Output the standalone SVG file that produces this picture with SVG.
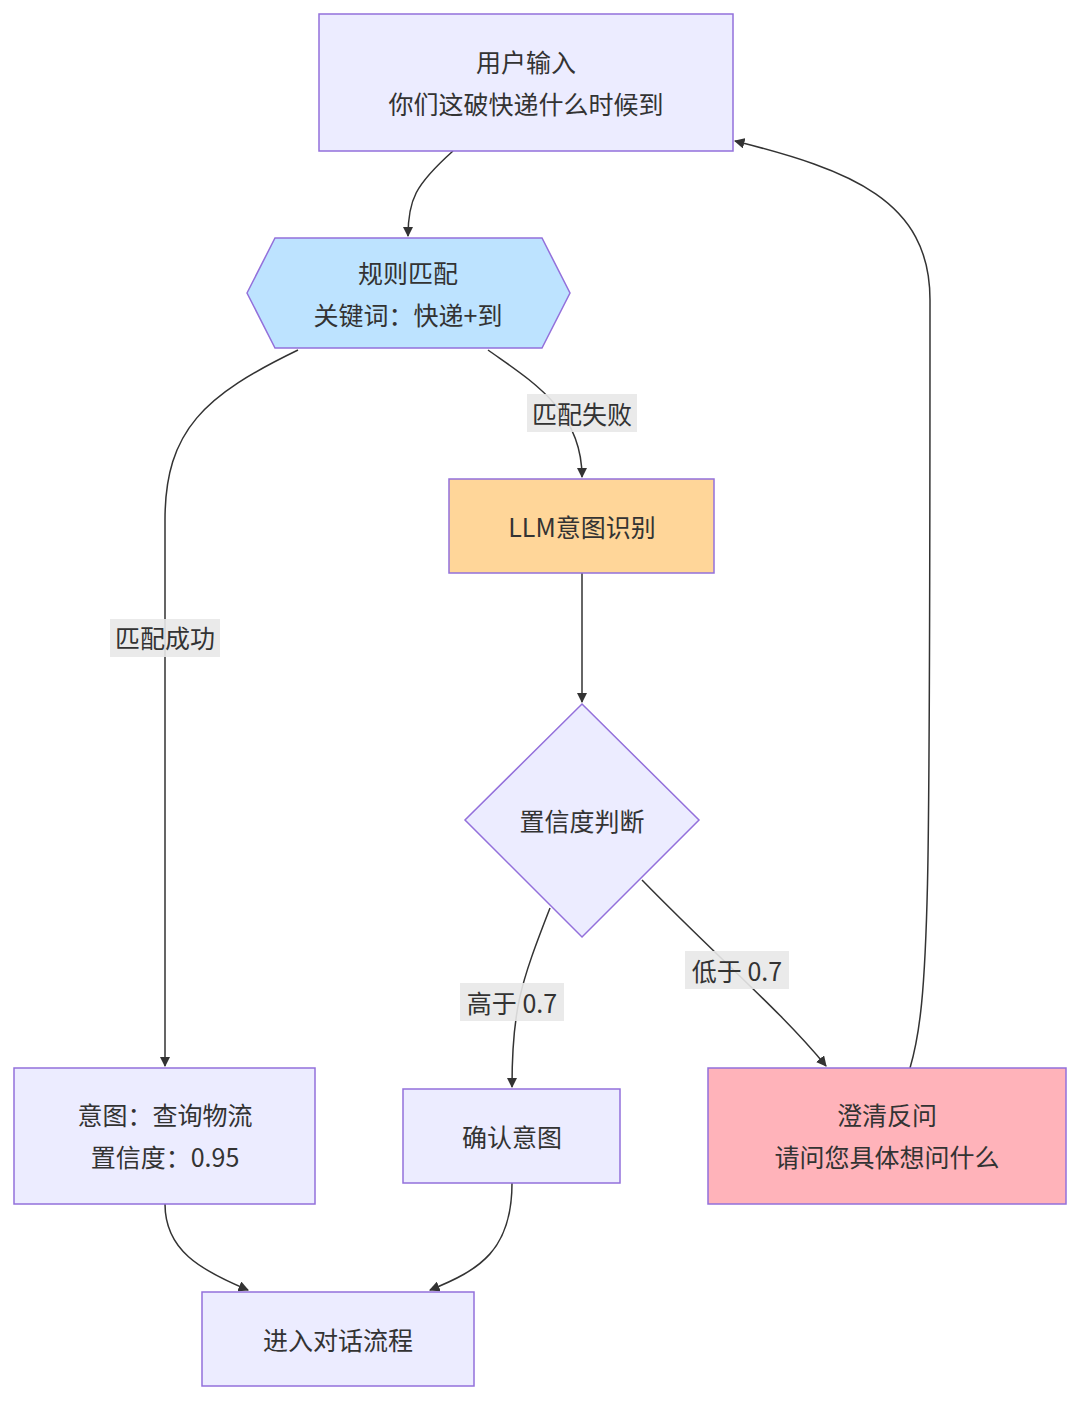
<svg xmlns="http://www.w3.org/2000/svg" width="1080" height="1401" viewBox="0 0 1080 1401">
<defs>
<marker id="ah" viewBox="0 0 10 10" refX="9" refY="5" markerWidth="7" markerHeight="7" orient="auto-start-reverse"><path d="M0,0 L10,5 L0,10 z" fill="#333"/></marker>
<style>
.n{fill:#ECECFF;stroke:#9370DB;stroke-width:1.5}
.t{font-family:"Noto Sans CJK SC","Noto Sans",sans-serif;font-size:25px;fill:#333;text-anchor:middle;dominant-baseline:central}
.e{fill:none;stroke:#333;stroke-width:1.5;marker-end:url(#ah)}
.lb{fill:#e8e8e8;opacity:0.9}
</style>
</defs>
<rect width="1080" height="1401" fill="#fff"/>
<g id="edges">
<path class="e" d="M453,151 C415,185 408,200 408,236"/>
<path class="e" d="M298,350 C205,395 165,430 165,520 L165,1066"/>
<path class="e" d="M488,350 C530,380 582,410 582,477"/>
<path class="e" d="M582,573 L582,702"/>
<path class="e" d="M550,908 C520,985 512,1010 512,1087"/>
<path class="e" d="M642,880 C720,960 780,1010 826,1066"/>
<path class="e" d="M910,1068 C930,1000 930,900 930,300 C930,200 850,170 735,141"/>
<path class="e" d="M165,1204 C165,1250 200,1270 248,1290"/>
<path class="e" d="M512,1183 C512,1250 480,1270 430,1290"/>
<rect class="lb" x="110" y="619" width="110" height="38"/><text class="t" x="165" y="637">匹配成功</text>
<rect class="lb" x="527" y="394" width="110" height="38"/><text class="t" x="582" y="413">匹配失败</text>
<rect class="lb" x="460" y="983" width="104" height="38"/><text class="t" x="512" y="1002">高于 0.7</text>
<rect class="lb" x="685" y="951" width="104" height="38"/><text class="t" x="737" y="970">低于 0.7</text>
</g>
<g id="n1"><rect class="n" x="319" y="14" width="414" height="137"/><text class="t" x="526" y="61">用户输入</text><text class="t" x="526" y="103">你们这破快递什么时候到</text></g>
<g id="n2"><polygon points="247,293 275,238 542,238 570,293 542,348 275,348" fill="#BDE3FF" stroke="#9370DB" stroke-width="1.5"/><text class="t" x="408" y="272">规则匹配</text><text class="t" x="408" y="314">关键词：快递+到</text></g>
<g id="n3"><rect x="449" y="479" width="265" height="94" fill="#FFD699" stroke="#9370DB" stroke-width="1.5"/><text class="t" x="582" y="526">LLM意图识别</text></g>
<g id="n4"><polygon class="n" points="582,704 699,820 582,937 465,820"/><text class="t" x="582" y="820">置信度判断</text></g>
<g id="n5"><rect class="n" x="14" y="1068" width="301" height="136"/><text class="t" x="165" y="1114">意图：查询物流</text><text class="t" x="165" y="1156">置信度：0.95</text></g>
<g id="n6"><rect class="n" x="403" y="1089" width="217" height="94"/><text class="t" x="512" y="1136">确认意图</text></g>
<g id="n7"><rect x="708" y="1068" width="358" height="136" fill="#FFB3BA" stroke="#9370DB" stroke-width="1.5"/><text class="t" x="887" y="1114">澄清反问</text><text class="t" x="887" y="1156">请问您具体想问什么</text></g>
<g id="n8"><rect class="n" x="202" y="1292" width="272" height="94"/><text class="t" x="338" y="1339">进入对话流程</text></g>
</svg>
